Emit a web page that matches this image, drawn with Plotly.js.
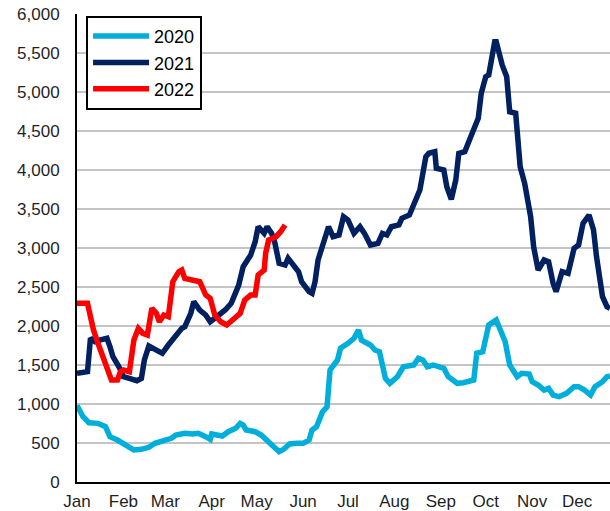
<!DOCTYPE html>
<html>
<head>
<meta charset="utf-8">
<script src="https://cdn.plot.ly/plotly-3.0.1.min.js"></script>
<style>
  html, body { margin: 0; padding: 0; background: #ffffff; }
  #chart { width: 610px; height: 511px; }
</style>
</head>
<body>
<div id="chart"></div>
<script>
// Day of year (x) and value (y)
const days2020 = [0,4,8,14,19,22,27,32,38,43,48,52,59,63,66,72,77,81,86,89,90,97,101,106,109,111,113,119,123,128,131,135,138,142,147,151,155,157,160,164,167,169,174,176,181,185,188,190,196,199,202,206,209,214,218,225,228,231,234,238,245,248,254,258,265,267,271,275,280,283,286,289,294,297,302,304,308,312,315,318,322,327,332,335,339,343,346,351,354,356];
const vals2020 = [980,837,760,752,709,581,538,474,410,419,445,496,538,560,603,624,615,624,581,547,615,590,645,688,752,731,667,645,603,517,453,388,419,487,496,496,538,667,709,901,965,1436,1564,1714,1778,1842,1949,1820,1756,1692,1670,1329,1265,1350,1478,1500,1586,1564,1478,1500,1458,1350,1265,1273,1308,1650,1670,2013,2077,1927,1799,1500,1350,1394,1385,1286,1244,1179,1201,1115,1094,1137,1222,1222,1179,1115,1222,1286,1350,1359];

const days2021 = [0,7,9,12,15,20,22,24,28,31,35,40,43,45,48,53,57,61,66,70,72,76,78,82,86,89,92,97,99,103,108,111,116,119,121,125,127,130,132,135,139,141,145,148,150,155,157,159,161,165,168,171,175,178,181,185,189,192,196,201,204,207,210,215,217,222,226,229,233,235,239,240,245,247,250,253,255,259,263,266,268,270,273,275,277,279,280,284,287,289,293,296,299,303,305,308,312,315,318,320,324,328,332,335,338,342,345,347,351,354,356];
const vals2021 = [1393,1414,1842,1799,1820,1842,1735,1606,1478,1350,1329,1299,1329,1564,1744,1692,1650,1756,1885,1970,1991,2163,2312,2205,2141,2055,2099,2163,2205,2291,2525,2760,2910,3081,3273,3188,3273,3188,3081,2804,2782,2868,2782,2696,2568,2440,2419,2568,2846,3081,3273,3145,3167,3401,3359,3188,3273,3188,3038,3060,3188,3167,3273,3295,3381,3423,3615,3743,4171,4214,4235,4022,4000,3786,3624,3872,4214,4235,4427,4598,4663,4983,5196,5218,5410,5645,5645,5346,5196,4747,4727,4042,3829,3401,3016,2718,2846,2824,2547,2440,2696,2675,2996,3038,3317,3423,3231,2888,2376,2247,2227];

const days2022 = [0,7,9,11,14,17,20,23,27,29,31,35,38,41,44,47,50,53,55,58,61,64,68,70,72,76,79,82,86,89,92,96,100,104,109,112,116,119,121,125,126,128,131,133,136,139];
const vals2022 = [2291,2291,2119,1949,1778,1606,1478,1308,1308,1414,1436,1414,1820,1970,1906,1885,2227,2163,2055,2141,2119,2568,2696,2718,2611,2590,2590,2568,2397,2355,2141,2055,2013,2077,2163,2333,2397,2397,2654,2718,2932,3102,3124,3145,3209,3295];

const monthTickDays = [0,31,59,90,120,151,181,212,243,273,304,334];
const monthLabels = ["Jan","Feb","Mar","Apr","May","Jun","Jul","Aug","Sep","Oct","Nov","Dec"];
const seriesNames = ["2020","2021","2022"];
const seriesColors = ["#00AEDB","#002060","#FF0000"];

const allDays = [days2020, days2021, days2022];
const allVals = [vals2020, vals2021, vals2022];

const traces = seriesNames.map((name, i) => ({
  type: "scatter",
  mode: "lines",
  name: name,
  legendgroup: name,
  x: allDays[i],
  y: allVals[i],
  line: { color: seriesColors[i], width: 5.5, shape: "linear" },
  hoverinfo: "skip"
}));

const font = { family: "Liberation Sans, Arial, sans-serif", size: 17, color: "#1f1f1f" };

const layout = {
  width: 610,
  height: 511,
  margin: { l: 77, r: 0, t: 14, b: 29, pad: 0 },
  paper_bgcolor: "#ffffff",
  plot_bgcolor: "#ffffff",
  font: font,
  showlegend: true,
  legend: {
    x: 0.017, xanchor: "left",
    y: 0.996, yanchor: "top",
    bgcolor: "#ffffff",
    bordercolor: "#000000",
    borderwidth: 2,
    itemwidth: 56,
    font: { family: font.family, size: 18, color: "#000000" },
    tracegroupgap: 4,
    traceorder: "normal"
  },
  xaxis: {
    range: [0, 356],
    tickmode: "array",
    tickvals: monthTickDays,
    ticktext: monthLabels,
    showgrid: false,
    zeroline: false,
    showline: true,
    linecolor: "#000000",
    linewidth: 2,
    ticks: "",
    ticklabelstandoff: 3,
    tickfont: font,
    fixedrange: true
  },
  yaxis: {
    range: [0, 6000],
    dtick: 500,
    tickformat: ",d",
    showgrid: true,
    gridcolor: "#c4c4c4",
    gridwidth: 2,
    zeroline: false,
    showline: true,
    linecolor: "#000000",
    linewidth: 2,
    ticks: "",
    ticklabelstandoff: 12,
    tickfont: font,
    fixedrange: true
  }
};

Plotly.newPlot("chart", traces, layout, { staticPlot: true, displayModeBar: false });
</script>
</body>
</html>
